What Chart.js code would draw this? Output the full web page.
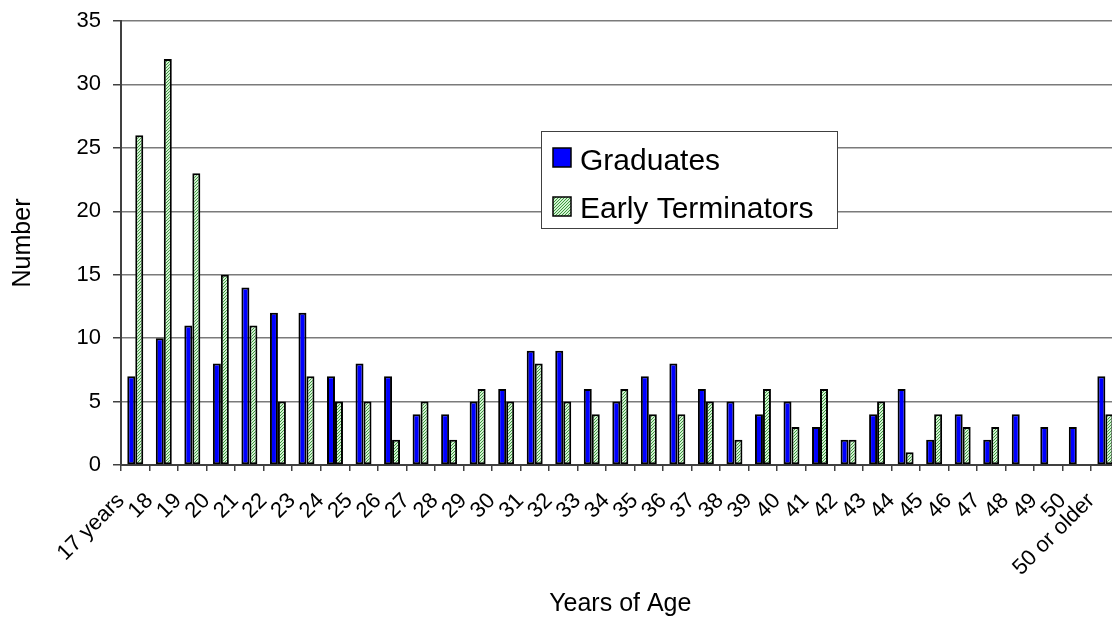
<!DOCTYPE html>
<html>
<head>
<meta charset="utf-8">
<script src="https://cdn.jsdelivr.net/npm/chart.js@4.4.1/dist/chart.umd.min.js"></script>
<style>
  html, body { margin: 0; padding: 0; background: #ffffff; overflow: hidden; }
  #wrap { width: 1141px; height: 617px; }
</style>
</head>
<body>
<div id="wrap"><canvas id="c" width="1141" height="617"></canvas></div>
<script>
// ---- data ----
const categories = ['17 years','18','19','20','21','22','23','24','25','26','27','28','29','30','31','32','33','34','35','36','37','38','39','40','41','42','43','44','45','46','47','48','49','50','50 or older'];
const graduates = [7,10,11,8,14,12,12,7,8,7,4,4,5,6,9,9,6,5,7,8,6,5,4,5,3,2,4,6,2,4,2,4,3,3,7];
const earlyTerminators = [26,32,23,15,11,5,7,5,5,2,5,2,6,5,8,5,4,6,4,4,5,2,6,3,6,2,5,1,4,3,3,0,0,0,4];
const seriesNames = ['Graduates', 'Early Terminators'];
const yTicks = [0,5,10,15,20,25,30,35];

// ---- hatched pattern for the second series ----
function makeHatch() {
  const t = document.createElement('canvas');
  t.width = 3; t.height = 3;
  const g = t.getContext('2d');
  g.fillStyle = '#d2f0d2';
  g.fillRect(0, 0, 3, 3);
  g.fillStyle = '#3d9b3d';
  for (let i = 0; i < 3; i++) g.fillRect(i, 2 - i, 1, 1);
  return g.createPattern(t, 'repeat');
}
const ctx = document.getElementById('c').getContext('2d');
const hatch = makeHatch();

const FONT = "'Liberation Sans', Arial, sans-serif";

// ---- legend drawn inside the plot ----
const boxLegend = {
  id: 'boxLegend',
  afterDraw(chart) {
    const c = chart.ctx;
    const x0 = 541, y0 = 131, w = 296, h = 97;
    c.save();
    c.fillStyle = '#ffffff';
    c.fillRect(x0, y0, w, h);
    c.strokeStyle = '#404040';
    c.lineWidth = 1;
    c.strokeRect(x0 + 0.5, y0 + 0.5, w, h);
    const rows = [{sy: 148, base: 169.5}, {sy: 197, base: 217.5}];
    chart.data.datasets.forEach((ds, i) => {
      const r = rows[i];
      c.fillStyle = ds.backgroundColor;
      c.fillRect(553, r.sy, 18, 19);
      c.strokeStyle = '#000000';
      c.lineWidth = 1.5;
      c.strokeRect(553, r.sy, 18, 19);
      c.fillStyle = '#000000';
      c.font = '30px ' + FONT;
      c.textBaseline = 'alphabetic';
      c.textAlign = 'left';
      c.fillText(ds.label, 580, r.base);
    });
    c.restore();
  }
};

new Chart(ctx, {
  type: 'bar',
  data: {
    labels: categories,
    datasets: [
      { label: seriesNames[0], data: graduates, backgroundColor: '#0000ff', borderColor: '#000000', borderWidth: 2, borderSkipped: false },
      { label: seriesNames[1], data: earlyTerminators, backgroundColor: hatch, borderColor: '#000000', borderWidth: 2, borderSkipped: false }
    ]
  },
  options: {
    responsive: false,
    animation: false,
    devicePixelRatio: 1,
    categoryPercentage: 0.56,
    barPercentage: 1.0,
    layout: { padding: { top: 21, right: 0, left: 0, bottom: 0 } },
    plugins: {
      legend: { display: false },
      tooltip: { enabled: false }
    },
    scales: {
      x: {
        offset: true,
        grid: { offset: true, drawOnChartArea: false, drawTicks: true, tickLength: 6, tickColor: '#404040', lineWidth: 1.5 },
        border: { display: true, color: '#404040', width: 2 },
        ticks: {
          autoSkip: false, maxRotation: 45, minRotation: 45,
          labelOffset: -14.3, padding: 17,
          color: '#000000', font: { family: FONT, size: 22 }
        },
        title: { display: true, text: 'Years of Age', color: '#000000', font: { family: FONT, size: 25 }, padding: { top: 0, bottom: -2 } },
        afterFit(scale) { scale.height = 152; }
      },
      y: {
        min: 0, max: 35,
        afterBuildTicks(scale) { scale.ticks = yTicks.map(v => ({ value: v })); },
        grid: { color: '#7a7a7a', lineWidth: 1.5, drawTicks: true, tickLength: 8, tickColor: '#404040' },
        border: { display: true, color: '#404040', width: 2 },
        ticks: { padding: 12, color: '#000000', font: { family: FONT, size: 22 } },
        title: { display: true, text: 'Number', color: '#000000', font: { family: FONT, size: 25 }, padding: { top: 8, bottom: 0 } },
        afterFit(scale) { scale.width = 121; scale.paddingTop = 0; scale.paddingBottom = 0; }
      }
    }
  },
  plugins: [boxLegend]
});
</script>
</body>
</html>
